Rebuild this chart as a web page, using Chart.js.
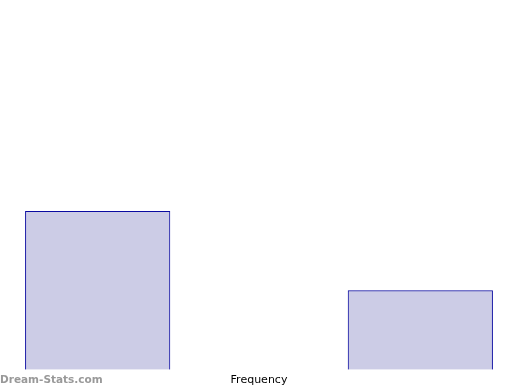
<!DOCTYPE html>
<html>
<head>
<meta charset="utf-8">
<style>
    body { margin: 0; background: #fff; }
</style>
<script src="https://cdn.jsdelivr.net/npm/chart.js@4/dist/chart.umd.min.js"></script>
</head>
<body>
<canvas id="mycanvas" width="520" height="390"></canvas>
<script>
// histogram bins and counts
const labels = ['1', '2', '3'];
const counts = [2, 0, 1];
const yMax = 4;

// watermark in the lower left corner
const watermark = {
    id: 'watermark',
    afterDraw(chart) {
        const ctx = chart.ctx;
        ctx.save();
        ctx.font = 'bold 10.5px "DejaVu Sans"';
        ctx.fillStyle = '#999999';
        ctx.textBaseline = 'middle';
        ctx.fillText('Dream-Stats.com', 0, 380);
        ctx.restore();
    }
};

const chartdata = {
    labels: labels,
    datasets: [{
        label: 'Frequency',
        data: counts,
        backgroundColor: 'rgba(0, 0, 128, 0.2)',
        borderColor: 'rgb(10, 10, 160)',
        borderWidth: 1,
        barPercentage: 0.9,
        categoryPercentage: 1
    }]
};

var ctx = document.getElementById('mycanvas');
var barGraph = new Chart(ctx, {
    type: 'bar',
    data: chartdata,
    plugins: [watermark],
    options: {
        responsive: false,
        animation: false,
        layout: { padding: { top: 52, left: 17, right: 19, bottom: 0 } },
        plugins: {
            legend: { display: false },
            tooltip: { enabled: false }
        },
        scales: {
            x: {
                grid: { display: false },
                border: { display: false },
                ticks: { display: false },
                title: {
                    display: true,
                    text: 'Frequency',
                    color: '#000',
                    padding: { top: -4, bottom: 3 },
                    font: { family: 'DejaVu Sans', size: 11 }
                }
            },
            y: {
                display: false,
                min: 0,
                max: yMax
            }
        }
    }
});
</script>
</body>
</html>
